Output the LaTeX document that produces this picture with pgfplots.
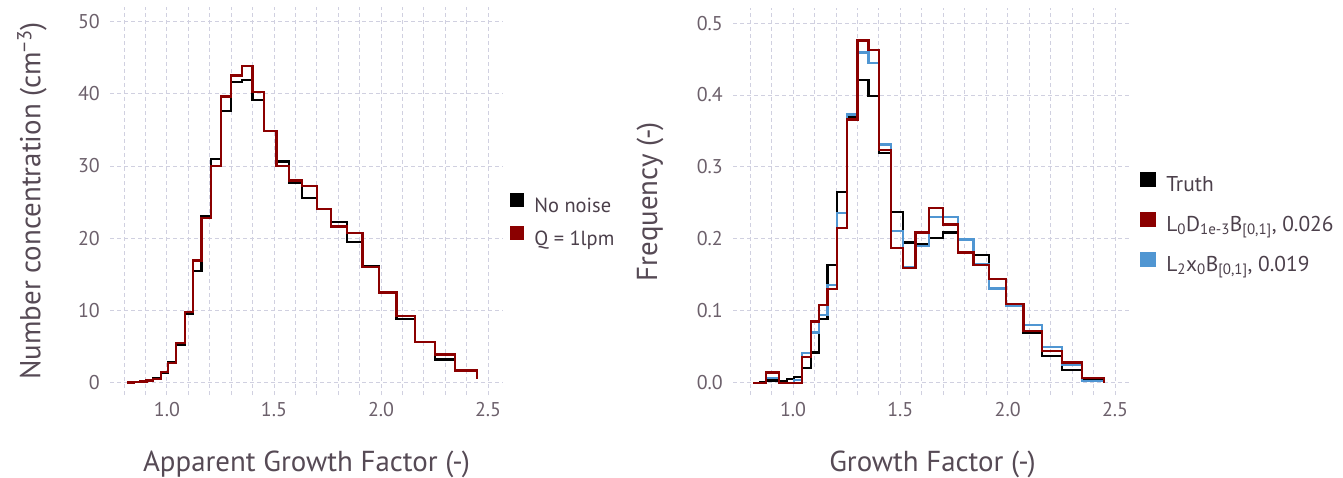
\documentclass[border=0pt]{standalone}
\usepackage{pgfplots}
\pgfplotsset{compat=1.18}
\usepackage{pgfplotstable}
\usepackage{fontspec}
\setmainfont{PT Sans}
\definecolor{ticklab}{HTML}{6C606B}
\definecolor{axlab}{HTML}{564A55}
\definecolor{keylab}{HTML}{4C404B}
\definecolor{gridc}{HTML}{D0D0E0}
\definecolor{cred}{RGB}{139,0,0}
\definecolor{cblue}{RGB}{80,150,210}

\pgfplotstableread{
x      nonoise q1
0.815  0.05   0.05
0.845  0.10   0.10
0.874  0.15   0.15
0.905  0.30   0.30
0.936  0.60   0.50
0.972  1.30   1.50
1.006  2.90   2.70
1.043  5.20   5.45
1.083  9.50   9.75
1.121  15.5   16.9
1.161  23.1   22.8
1.205  31.0   30.0
1.253  37.6   39.6
1.300  41.6   42.5
1.351  41.9   43.8
1.400  39.1   40.2
1.455  34.8   34.8
1.512  30.6   30.0
1.571  27.6   28.0
1.632  25.6   27.2
1.700  24.0   24.0
1.767  22.2   21.6
1.840  19.5   20.7
1.913  16.2   16.0
1.992  12.4   12.5
2.073  8.8    9.2
2.159  5.6    5.6
2.252  3.2    3.9
2.346  1.7    1.7
2.449  0.5    0.5
}\lefttable

\pgfplotstableread{
x      truth  lzero  ltwo
0.815  0.000  0.000  0.000
0.845  0.001  0.000  0.000
0.874  0.003  0.014  0.007
0.905  0.003  0.014  0.007
0.936  0.002  0.000  0.000
0.972  0.005  0.000  0.000
1.006  0.008  0.000  0.004
1.043  0.020  0.036  0.041
1.083  0.042  0.085  0.070
1.121  0.089  0.108  0.094
1.161  0.164  0.130  0.136
1.205  0.265  0.215  0.236
1.253  0.370  0.366  0.373
1.300  0.421  0.476  0.459
1.351  0.399  0.463  0.445
1.400  0.319  0.324  0.331
1.455  0.237  0.187  0.211
1.512  0.195  0.159  0.161
1.571  0.192  0.209  0.190
1.632  0.201  0.243  0.230
1.700  0.209  0.220  0.230
1.767  0.199  0.181  0.199
1.840  0.178  0.164  0.165
1.913  0.144  0.144  0.131
1.992  0.109  0.109  0.107
2.073  0.069  0.072  0.080
2.159  0.037  0.044  0.050
2.252  0.018  0.028  0.025
2.346  0.004  0.007  0.002
2.449  0.000  0.000  0.000
}\righttable

\pgfplotsset{
  gadfly/.style={
    scale only axis,
    anchor=south west,
    axis line style={draw=none},
    major tick length=0pt,
    minor tick length=0pt,
    tick style={draw=none},
    xtick={1,1.5,2,2.5},
    minor xtick={0.8,0.9,1.0,1.1,1.2,1.3,1.4,1.5,1.6,1.7,1.8,1.9,2.0,2.1,2.2,2.3,2.4,2.5},
    xmajorgrids, xminorgrids, ymajorgrids,
    major grid style={draw=gridc, line width=0.9bp, dash pattern=on 4bp off 3bp},
    minor grid style={draw=gridc, line width=0.9bp, dash pattern=on 4bp off 3bp},
    /pgf/number format/assume math mode=true,
    xticklabel style={/pgf/number format/fixed, /pgf/number format/fixed zerofill, /pgf/number format/precision=1},
    tick label style={font=\fontsize{20}{24}\selectfont, text=ticklab, inner sep=0pt},
    xticklabel style={anchor=north, yshift=-7bp},
    yticklabel style={anchor=east, xshift=-10bp},
    label style={font=\fontsize{29}{34}\selectfont, text=axlab},
    xlabel style={at={(axis description cs:0.5,-0.18)}, anchor=center},
    legend style={draw=none, fill=none, inner sep=0pt, text=keylab,
      cells={anchor=west}},
    legend cell align=left,
    every axis plot/.append style={const plot, line width=2.3bp, line join=miter, mark=none},
  }
}

\begin{document}
\begin{tikzpicture}
\path[use as bounding box] (0,0) rectangle (1343bp,478bp);
\begin{axis}[gadfly,
  at={(110bp,83bp)}, width=393bp, height=388bp,
  xmin=0.734, xmax=2.570, ymin=-1.7, ymax=52.0,
  ytick={0,10,20,30,40,50},
  xlabel={Apparent Growth Factor (-)},
  ylabel={Number concentration (cm\textsuperscript{−3})},
  ylabel style={at={(axis description cs:-0.1985,0.5)}, anchor=center},
  legend image code/.code={\fill[#1, draw=none] (0bp,0bp) rectangle (14bp,14bp); \path (23bp,0bp);},
  legend style={at={(axis description cs:1.018,0.447)}, anchor=west,
    font=\fontsize{20.5}{24}\selectfont, row sep=9bp,
    nodes={text height=15bp, text depth=5bp, inner sep=0pt}},
]
\addplot[black, forget plot] table[x=x, y=nonoise] {\lefttable};
\addplot[cred, forget plot] table[x=x, y=q1] {\lefttable};
\addlegendimage{fill=black}
\addlegendentry{No noise}
\addlegendimage{fill=cred}
\addlegendentry{Q = 1lpm}
\end{axis}

\begin{axis}[gadfly,
  at={(733bp,83bp)}, width=399bp, height=387bp,
  xmin=0.7205, xmax=2.579, ymin=-0.0171, ymax=0.521,
  ytick={0,0.1,0.2,0.3,0.4,0.5},
  yticklabel style={/pgf/number format/fixed, /pgf/number format/fixed zerofill, /pgf/number format/precision=1},
  xlabel={Growth Factor (-)},
  ylabel={Frequency (-)},
  ylabel style={at={(axis description cs:-0.208,0.5)}, anchor=center},
  legend image code/.code={\fill[#1, draw=none] (0bp,0bp) rectangle (16bp,15bp); \path (25bp,0bp);},
  legend style={at={(axis description cs:1.02,0.4385)}, anchor=west,
    font=\fontsize{21.5}{26}\selectfont, row sep=12.5bp,
    nodes={text height=17bp, text depth=8bp, inner sep=0pt}},
]
\addplot[black, forget plot] table[x=x, y=truth] {\righttable};
\addplot[cblue, forget plot] table[x=x, y=ltwo] {\righttable};
\addplot[cred, forget plot] table[x=x, y=lzero] {\righttable};
\addlegendimage{fill=black}
\addlegendentry{Truth}
\addlegendimage{fill=cred}
\addlegendentry{L\textsubscript{0}D\textsubscript{1e-3}B\textsubscript{[0,1]}, 0.026}
\addlegendimage{fill=cblue}
\addlegendentry{L\textsubscript{2}x\textsubscript{0}B\textsubscript{[0,1]}, 0.019}
\end{axis}
\end{tikzpicture}
\end{document}
